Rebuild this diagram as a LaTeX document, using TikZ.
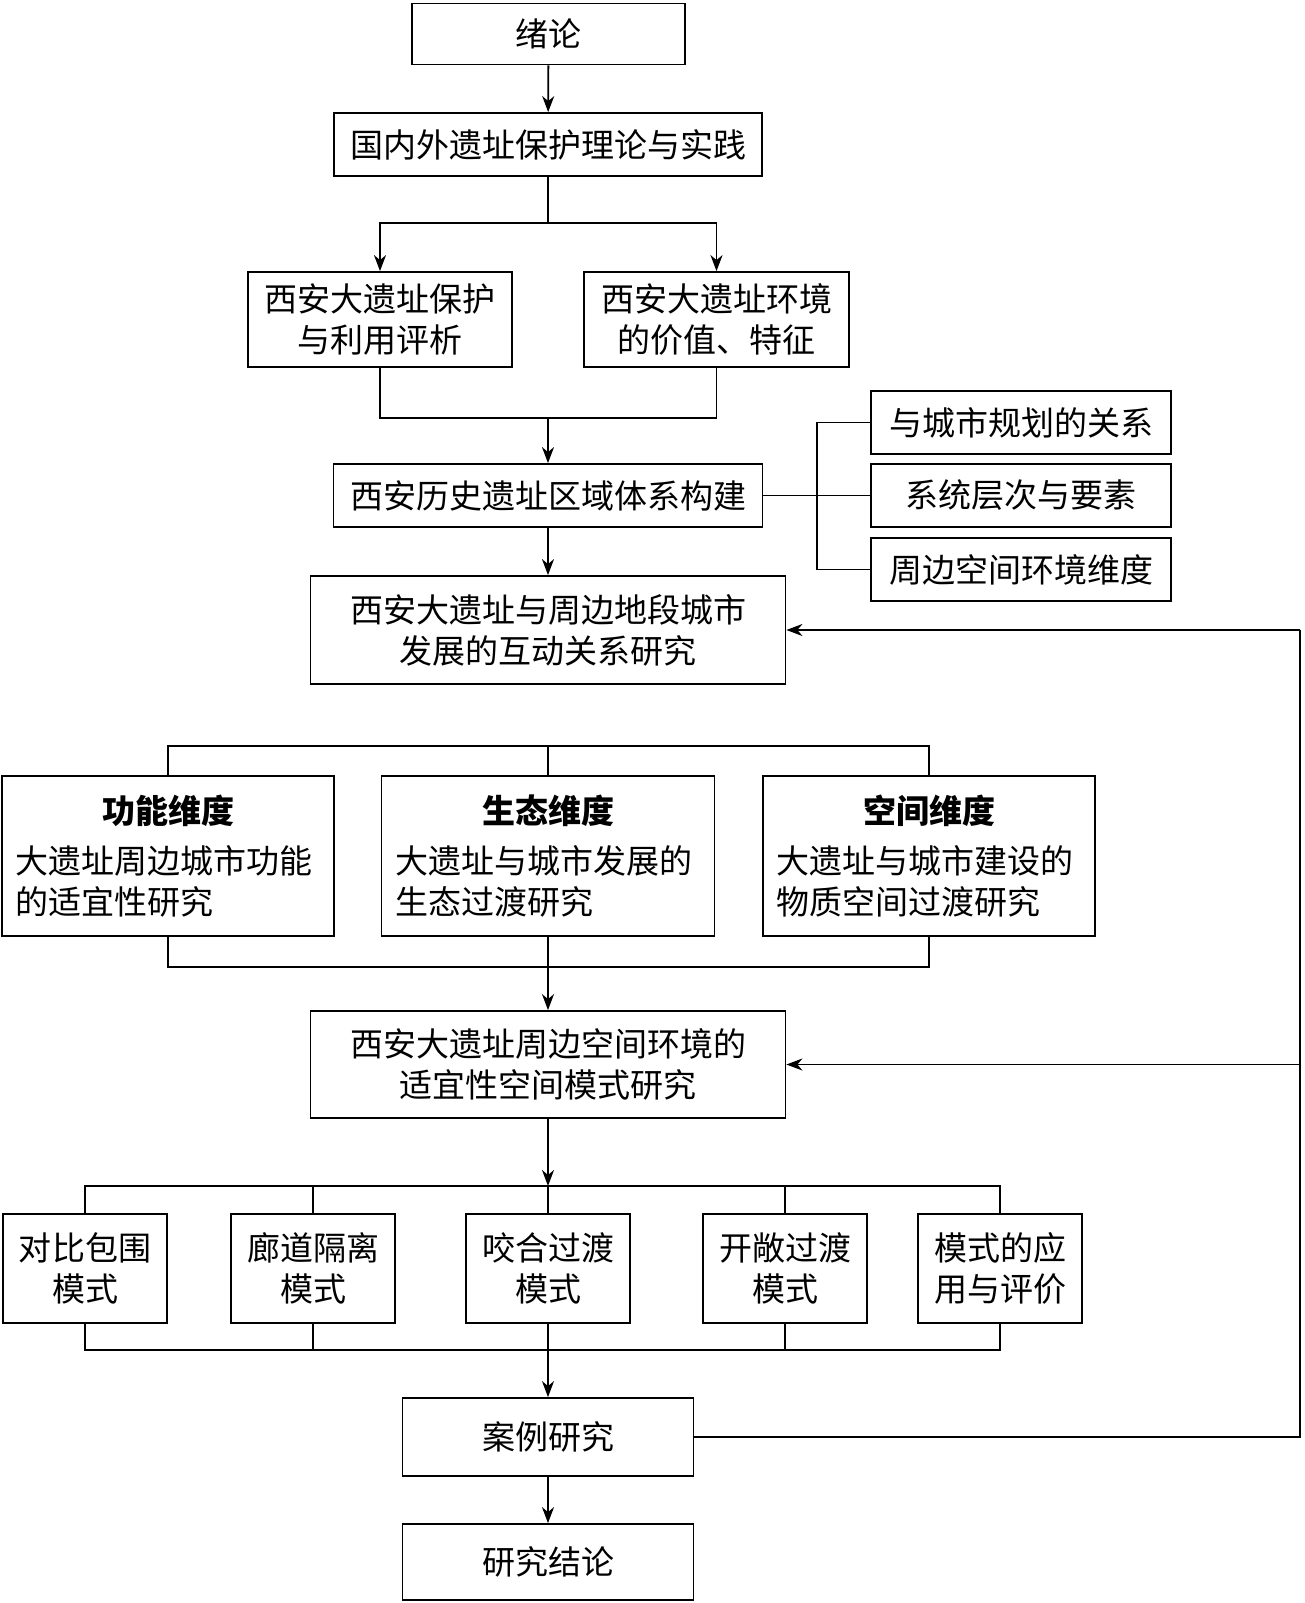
\documentclass[tikz,border=0pt]{standalone}
\usepackage{fontspec}
\newfontfamily\cjk{Noto Sans CJK SC}
\usetikzlibrary{arrows.meta}
\begin{document}
\begin{tikzpicture}[x=1pt,y=-1pt,
  box/.style={draw,line width=1.8pt,inner sep=0pt,align=center,
    font=\cjk\fontsize{33}{41}\selectfont},
  ln/.style={line width=1.8pt},
  arr/.style={ln,-{Stealth[length=16pt,width=12pt,inset=5pt]}}]
\useasboundingbox (0,0) rectangle (1304,1603);
% nodes
\node[box,minimum width=273pt,minimum height=61pt] (intro) at (548.5,34) {绪论};
\node[box,minimum width=428pt,minimum height=63pt] (theory) at (548,144.5) {国内外遗址保护理论与实践};
\node[box,minimum width=264pt,minimum height=95pt] (eval) at (380,319.5) {西安大遗址保护\\与利用评析};
\node[box,minimum width=265pt,minimum height=95pt] (value) at (716.5,319.5) {西安大遗址环境\\的价值、特征};
\node[box,minimum width=429pt,minimum height=63pt] (system) at (548,495.5) {西安历史遗址区域体系构建};
\node[box,minimum width=300pt,minimum height=63pt] (r1) at (1021,422.5) {与城市规划的关系};
\node[box,minimum width=300pt,minimum height=63pt] (r2) at (1021,495.5) {系统层次与要素};
\node[box,minimum width=300pt,minimum height=63pt] (r3) at (1021,569.5) {周边空间环境维度};
\node[box,minimum width=475pt,minimum height=108pt] (interact) at (548,630) {西安大遗址与周边地段城市\\发展的互动关系研究};
\node[box,minimum width=332pt,minimum height=160pt] (dimA) at (168,856) {{\bfseries 功能维度}\\[9pt]\makebox[306pt][l]{大遗址周边城市功能}\\\makebox[306pt][l]{的适宜性研究}};
\node[box,minimum width=333pt,minimum height=160pt] (dimB) at (548,856) {{\bfseries 生态维度}\\[9pt]\makebox[306pt][l]{大遗址与城市发展的}\\\makebox[306pt][l]{生态过渡研究}};
\node[box,minimum width=332pt,minimum height=160pt] (dimC) at (929,856) {{\bfseries 空间维度}\\[9pt]\makebox[306pt][l]{大遗址与城市建设的}\\\makebox[306pt][l]{物质空间过渡研究}};
\node[box,minimum width=475pt,minimum height=107pt] (pattern) at (548,1064.5) {西安大遗址周边空间环境的\\适宜性空间模式研究};
\node[box,minimum width=164pt,minimum height=109pt] (m1) at (85,1268.5) {对比包围\\模式};
\node[box,minimum width=164pt,minimum height=109pt] (m2) at (313,1268.5) {廊道隔离\\模式};
\node[box,minimum width=164pt,minimum height=109pt] (m3) at (548,1268.5) {咬合过渡\\模式};
\node[box,minimum width=164pt,minimum height=109pt] (m4) at (785,1268.5) {开敞过渡\\模式};
\node[box,minimum width=164pt,minimum height=109pt] (m5) at (1000,1268.5) {模式的应\\用与评价};
\node[box,minimum width=291pt,minimum height=78pt] (case) at (548,1437) {案例研究};
\node[box,minimum width=291pt,minimum height=76pt] (concl) at (548,1562) {研究结论};
% junctions
\coordinate (b1) at (548,223);
\coordinate (b2) at (548,418);
\coordinate (br) at (817,495.5);
\coordinate (t3) at (548,746);
\coordinate (t4) at (548,967);
\coordinate (t5) at (548,1186);
\coordinate (t6) at (548,1350);
\coordinate (fbA) at (1300,630);
\coordinate (fbB) at (1300,1064.5);
\coordinate (fbC) at (1300,1437);
% connectors
\draw[arr] (intro) -- (theory);
\draw[ln] (theory) -- (b1);
\draw[arr] (b1) -| (eval.north);
\draw[arr] (b1) -| (value.north);
\draw[ln] (eval.south) |- (b2) -| (value.south);
\draw[arr] (b2) -- (system);
\draw[ln] (system) -- (br);
\draw[ln] (r1.west) -| (br) |- (r3.west);
\draw[ln] (r2) -- (br);
\draw[arr] (system) -- (interact);
\draw[ln] (dimA.north) |- (t3) -| (dimC.north);
\draw[ln] (dimB.north) -- (t3);
\draw[ln] (dimA.south) |- (t4) -| (dimC.south);
\draw[arr] (dimB.south) -- (pattern.north);
\draw[arr] (pattern) -- (t5);
\draw[ln] (m1.north) |- (t5) -| (m5.north);
\draw[ln] (m2.north) -- (m2.north |- t5);
\draw[ln] (m4.north) -- (m4.north |- t5);
\draw[ln] (m3.north) -- (t5);
\draw[ln] (m1.south) |- (t6) -| (m5.south);
\draw[ln] (m2.south) -- (m2.south |- t6);
\draw[ln] (m4.south) -- (m4.south |- t6);
\draw[arr] (m3.south) -- (case.north);
\draw[arr] (case) -- (concl);
\draw[ln] (case.east) -- (fbC) -- (fbA);
\draw[arr] (fbA) -- (interact.east);
\draw[arr] (fbB) -- (pattern.east);
\end{tikzpicture}
\end{document}
